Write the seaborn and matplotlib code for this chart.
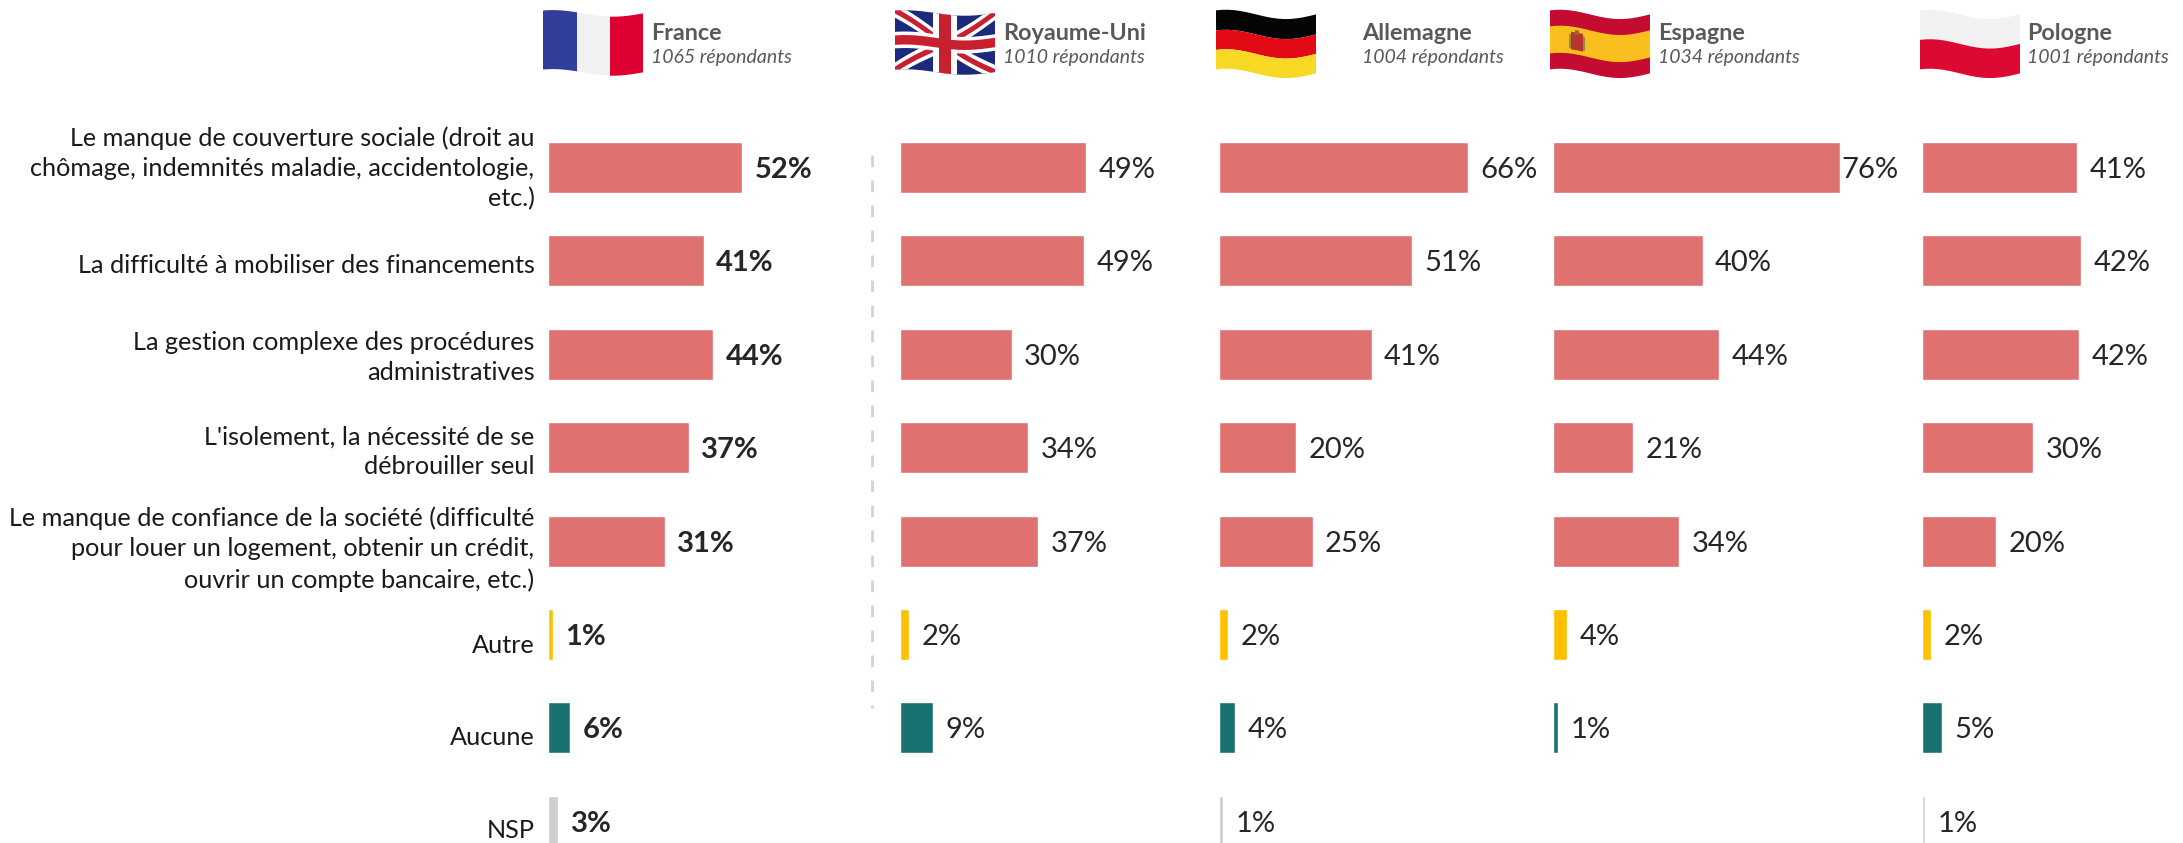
import numpy as np
import pandas as pd
import matplotlib
matplotlib.use('Agg')
import matplotlib.pyplot as plt
from matplotlib.lines import Line2D
from matplotlib.patches import Polygon
import seaborn as sns

# Values (bar lengths, labels are the rounded values)
items = [
    "Le manque de couverture sociale (droit au\nchômage, indemnités maladie, accidentologie,\netc.)",
    "La difficulté à mobiliser des financements",
    "La gestion complexe des procédures\nadministratives",
    "L'isolement, la nécessité de se\ndébrouiller seul",
    "Le manque de confiance de la société (difficulté\npour louer un logement, obtenir un crédit,\nouvrir un compte bancaire, etc.)",
    "Autre",
    "Aucune",
    "NSP",
]
groups = ['Difficulté'] * 5 + ['Autre', 'Aucune', 'NSP']
countries = ['France', 'Royaume-Uni', 'Allemagne', 'Espagne', 'Pologne']
respondents = ['1065 répondants', '1010 répondants', '1004 répondants', '1034 répondants', '1001 répondants']

france = [51.6, 41.4, 43.9, 37.4, 31.1, 1.3, 5.9, 2.7]
royaume_uni = [49.4, 49.0, 29.7, 34.0, 36.8, 2.4, 8.8, np.nan]
allemagne = [66.3, 51.3, 40.6, 20.4, 24.9, 2.4, 4.3, 1.0]
espagne = [76.3, 39.8, 44.1, 21.2, 33.6, 3.8, 1.3, np.nan]
pologne = [41.3, 42.4, 41.7, 29.6, 19.6, 2.4, 5.3, 0.8]
series = [france, royaume_uni, allemagne, espagne, pologne]

palette = {'Difficulté': '#DF7170', 'Autre': '#FFC000', 'Aucune': '#187272', 'NSP': '#D0CECE'}

W, H = 2183, 843
bar_left = [548, 900, 1219, 1553, 1922]
px_per_pct = 3.76
row0, row_step = 167.5, 93.4
label_dy = [1, 5, 3, 4, 8, 11, 10, 9]
name_x = [651, 1003, 1362, 1658, 2027]
flag_x = [543, 895, 1216, 1550, 1920]

sns.set_theme(style='white')
plt.rcParams['font.family'] = ['Lato', 'DejaVu Sans']
text_col = '#262626'
head_col = '#595959'

fig = plt.figure(figsize=(W / 100, H / 100), dpi=100)

# overlay in pixel coordinates for flags and the dashed separator
bg = fig.add_axes([0, 0, 1, 1])
bg.set_xlim(0, W)
bg.set_ylim(H, 0)
bg.set_axis_off()


def wave(u, amp):
    return amp * (4 + 5.5 * np.cos(2 * np.pi * (u - 0.7) / 1.2))


def flag_poly(x0, y0, pts, color, amp=0.85, w=100, h=59):
    # pts are in flag coordinates (0-1), edges get subdivided so they follow the wave
    pts = np.array(pts + [pts[0]], dtype=float)
    out = []
    for a, b in zip(pts[:-1], pts[1:]):
        for t in np.linspace(0, 1, 16, endpoint=False):
            u, v = a + (b - a) * t
            out.append((x0 + u * w, y0 + v * h + wave(u, amp)))
    bg.add_patch(Polygon(out, closed=True, fc=color, ec='none', lw=0))


def rect(u0, v0, u1, v1):
    return [(u0, v0), (u1, v0), (u1, v1), (u0, v1)]


def draw_flag(name, x0):
    y0 = 11
    if name == 'France':
        flag_poly(x0, y0, rect(0, 0, .34, 1), '#323F9A', .6)
        flag_poly(x0, y0, rect(.34, 0, .67, 1), '#F1F1F4', .6)
        flag_poly(x0, y0, rect(.67, 0, 1, 1), '#DE0030', .6)
    elif name == 'Royaume-Uni':
        flag_poly(x0, y0, rect(0, 0, 1, 1), '#1B2A7C', .5)
        for pts in ([(0, 0), (.12, 0), (1, .88), (1, 1), (.88, 1), (0, .12)],
                    [(1, 0), (1, .12), (.12, 1), (0, 1), (0, .88), (.88, 0)]):
            flag_poly(x0, y0, pts, 'white', .5)
        for pts in ([(0, .0), (.05, 0), (1, .95), (1, 1), (.95, 1), (0, .05)],
                    [(1, 0), (1, .05), (.05, 1), (0, 1), (0, .95), (.95, 0)]):
            flag_poly(x0, y0, pts, '#C8202F', .5)
        flag_poly(x0, y0, rect(.38, 0, .62, 1), 'white', .5)
        flag_poly(x0, y0, rect(0, .36, 1, .64), 'white', .5)
        flag_poly(x0, y0, rect(.44, 0, .56, 1), '#C8202F', .5)
        flag_poly(x0, y0, rect(0, .42, 1, .58), '#C8202F', .5)
    elif name == 'Allemagne':
        flag_poly(x0, y0, rect(0, 0, 1, .34), '#050505')
        flag_poly(x0, y0, rect(0, .34, 1, .67), '#E20A14')
        flag_poly(x0, y0, rect(0, .67, 1, 1), '#F7D923')
    elif name == 'Espagne':
        flag_poly(x0, y0, rect(0, 0, 1, 1), '#C40B32')
        flag_poly(x0, y0, rect(0, .27, 1, .73), '#F8BF1F')
        flag_poly(x0, y0, rect(.21, .36, .33, .66), '#B5372B')
        flag_poly(x0, y0, rect(.25, .32, .29, .40), '#8A6A2A')
        flag_poly(x0, y0, rect(.19, .40, .21, .64), '#9A8A4A')
        flag_poly(x0, y0, rect(.33, .40, .35, .64), '#9A8A4A')
    else:
        flag_poly(x0, y0, rect(0, 0, 1, .5), '#F2F2F3')
        flag_poly(x0, y0, rect(0, .5, 1, 1), '#DC0A32')


for name, fx in zip(countries, flag_x):
    draw_flag(name, fx)

bg.add_line(Line2D([871.7, 871.7], [155, 708], color='#D3D3D3', lw=2.0, dashes=(4.2, 4.8)))

# axes span the whole row band, rows are laid out by the categorical axis
ax_top = row0 - row_step / 2
ax_h = row_step * len(items)
ax_w = 300

for c, (name, resp, vals, x0, nx) in enumerate(zip(countries, respondents, series, bar_left, name_x)):
    df = pd.DataFrame({'item': items, 'pct': vals, 'group': groups})
    ax = fig.add_axes([x0 / W, 1 - (ax_top + ax_h) / H, ax_w / W, ax_h / H])
    sns.barplot(data=df, y='item', x='pct', hue='group', order=items, palette=palette,
                dodge=False, width=0.544, saturation=1, legend=False, ax=ax)
    ax.set_xlim(0, ax_w / px_per_pct)
    ax.set_ylim(len(items) - 0.5, -0.5)
    ax.set_axis_off()

    weight = 'bold' if name == 'France' else 'normal'
    for container in ax.containers:
        for bar in container:
            w = bar.get_width()
            if np.isnan(w) or w == 0:
                continue
            # the 76% label sits nearly against its bar in the original
            pad = 1.5 if w > 70 else 12.5
            ax.annotate(f'{w:.0f}%', xy=(w, bar.get_y() + bar.get_height() / 2), xytext=(pad, 0),
                        textcoords='offset pixels', ha='left', va='center_baseline',
                        fontsize=21, color=text_col, fontweight=weight)

    if c == 0:
        for i, label in enumerate(items):
            ax.annotate(label, xy=(0, i), xytext=(-13.5, -label_dy[i]), textcoords='offset pixels',
                        ha='right', va='center', fontsize=18.2, color='#1A1A1A',
                        linespacing=1.38, multialignment='right')

    fig.text(nx / W, 1 - 33 / H, name, ha='left', va='center', fontsize=16.8,
             fontweight='bold', color=head_col)
    fig.text(nx / W, 1 - 57 / H, resp, ha='left', va='center', fontsize=14,
             fontstyle='italic', color=head_col)

fig.savefig('out.png', dpi=100)
